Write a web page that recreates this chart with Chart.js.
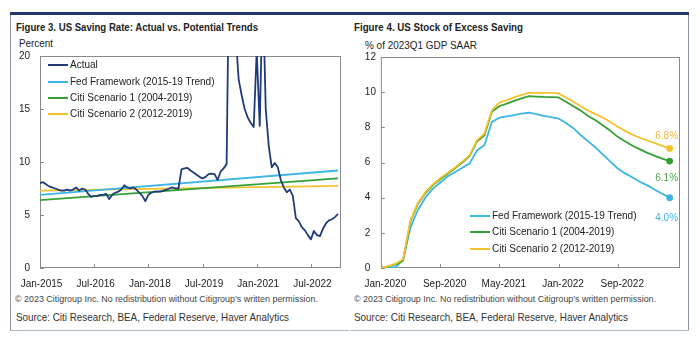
<!DOCTYPE html>
<html>
<head>
<meta charset="utf-8">
<script src="https://cdn.jsdelivr.net/npm/chart.js@4.4.1/dist/chart.umd.min.js"></script>
<style>
  html, body { margin:0; padding:0; background:#fff; }
  body { width:700px; height:341px; position:relative; overflow:hidden; font-family:"Liberation Sans", Arial, sans-serif; color:#222; }
  .abs { position:absolute; }
  .t { position:absolute; white-space:nowrap; line-height:12px; height:12px; transform-origin:0 50%; }
  .bold { font-weight:bold; }
  canvas { position:absolute; }
  .lg { position:absolute; font-size:10px; line-height:12px; white-space:nowrap; color:#222; }
  .lg i { position:absolute; height:2px; width:20px; }
</style>
</head>
<body>
<!-- frame -->
<div class="abs" style="left:10px;top:12px;width:679px;height:3px;background:#1F3864;"></div>
<div class="abs" style="left:10px;top:15px;width:1px;height:316px;background:#8a94a3;"></div>
<div class="abs" style="left:10px;top:330px;width:339px;height:1px;background:#a9b6c8;"></div>
<div class="abs" style="left:688px;top:15px;width:1px;height:316px;background:#8a94a3;"></div>
<div class="abs" style="left:350px;top:330px;width:339px;height:1px;background:#a9b6c8;"></div>

<!-- texts -->
<div class="t bold" data-w="242" style="left:16px;top:21px;font-size:11px;">Figure 3. US Saving Rate: Actual vs. Potential Trends</div>
<div class="t" data-w="34" style="left:19px;top:37px;font-size:11px;">Percent</div>
<div class="t" data-w="303" style="left:15px;top:293px;font-size:9.5px;color:#444;">© 2023 Citigroup Inc. No redistribution without Citigroup’s written permission.</div>
<div class="t" data-w="273" style="left:16px;top:311px;font-size:10.5px;color:#333;">Source: Citi Research, BEA, Federal Reserve, Haver Analytics</div>

<div class="t bold" data-w="169" style="left:354px;top:21px;font-size:11px;">Figure 4. US Stock of Excess Saving</div>
<div class="t" data-w="112" style="left:365px;top:39px;font-size:11px;">% of 2023Q1 GDP SAAR</div>
<div class="t" data-w="302" style="left:354px;top:293px;font-size:9.5px;color:#444;">© 2023 Citigroup Inc. No redistribution without Citigroup’s written permission.</div>
<div class="t" data-w="274" style="left:354px;top:311px;font-size:10.5px;color:#333;">Source: Citi Research, BEA, Federal Reserve, Haver Analytics</div>

<canvas id="c1" width="350" height="260" style="left:0px;top:40px;"></canvas>
<canvas id="c2" width="350" height="260" style="left:350px;top:40px;"></canvas>

<div id="leg1"></div>
<div id="leg2"></div>

<script>
// ---------------- DATA ----------------
// Figure 3: monthly, Jan-2015 .. Apr-2023 (index 0 = Jan-2015)
const actualSaving = [
  8.0, 8.1, 7.9, 7.7, 7.6, 7.5, 7.4, 7.3, 7.3, 7.4, 7.3, 7.4,   // 2015
  7.6, 7.3, 7.5, 7.4, 7.0, 6.7, 6.8, 6.8, 6.9, 6.9, 7.0, 6.5,   // 2016
  6.9, 7.1, 7.2, 7.4, 7.8, 7.6, 7.5, 7.6, 7.4, 7.1, 6.8, 6.3,   // 2017
  6.9, 7.1, 7.2, 7.2, 7.2, 7.3, 7.4, 7.5, 7.6, 7.5, 7.5, 9.3,   // 2018
  9.4, 9.45, 9.2, 9.0, 8.8, 8.6, 8.45, 8.6, 8.85, 8.9, 8.85, 8.3, // 2019
  9.1, 9.4, 9.8, 33.0, 25.0, 22.0, 17.8, 16.3, 15.0, 14.2, 13.7, 13.3, // 2020
  20.5, 13.4, 26.5, 15.0, 11.5, 9.5, 9.9, 9.5, 8.3, 7.6, 7.15, 7.4,     // 2021
  6.8, 4.7, 4.4, 3.85, 3.55, 3.1, 2.7, 3.5, 3.1, 3.0, 3.7, 4.2,         // 2022
  4.5, 4.6, 4.8, 5.1                                                     // 2023
];
// straight trend lines: values at Jan-2015 and Apr-2023
const trendMonths   = [0, 99];
const fedTrend      = [6.9, 9.2];
const citi1Trend    = [6.4, 8.45];
const citi2Trend    = [7.3, 7.75];
const fig3TickMonths = [0, 18, 36, 54, 72, 90];
const fig3TickLabels = ['Jan-2015', 'Jul-2016', 'Jan-2018', 'Jul-2019', 'Jan-2021', 'Jul-2022'];
const fig3Names = ['Actual', 'Fed Framework (2015-19 Trend)', 'Citi Scenario 1 (2004-2019)', 'Citi Scenario 2 (2012-2019)'];

// Figure 4: monthly, Jan-2020 .. Apr-2023 (index 0 = Jan-2020)
const excessFed = [
  0.0, 0.0, 0.05, 0.45, 2.3, 3.3, 4.0, 4.5, 4.85, 5.2, 5.45, 5.7,
  5.95, 6.7, 6.99, 8.31, 8.55, 8.62, 8.7, 8.78, 8.83, 8.75, 8.65, 8.58,
  8.5, 8.25, 7.95, 7.55, 7.2, 6.85, 6.45, 6.05, 5.66, 5.38, 5.15, 4.9,
  4.7, 4.45, 4.22, 4.0
];
const excessCiti1 = [
  0.0, 0.08, 0.2, 0.42, 2.65, 3.65, 4.25, 4.7, 5.05, 5.35, 5.67, 6.0,
  6.38, 7.2, 7.55, 8.9, 9.2, 9.35, 9.5, 9.65, 9.77, 9.75, 9.73, 9.72,
  9.7, 9.45, 9.2, 8.95, 8.65, 8.4, 8.1, 7.8, 7.46, 7.2, 6.95, 6.75,
  6.55, 6.38, 6.22, 6.08
];
const excessCiti2 = [
  0.0, 0.1, 0.25, 0.5, 2.7, 3.7, 4.3, 4.75, 5.1, 5.4, 5.72, 6.05,
  6.42, 7.27, 7.65, 8.98, 9.4, 9.55, 9.7, 9.85, 9.96, 9.96, 9.96, 9.96,
  9.93, 9.7, 9.45, 9.2, 8.95, 8.75, 8.55, 8.3, 8.03, 7.8, 7.58, 7.4,
  7.25, 7.1, 6.95, 6.8
];
const fig4TickMonths = [0, 8, 16, 24, 32];
const fig4TickLabels = ['Jan-2020', 'Sep-2020', 'May-2021', 'Jan-2022', 'Sep-2022'];
const fig4Names = ['Fed Framework (2015-19 Trend)', 'Citi Scenario 1 (2004-2019)', 'Citi Scenario 2 (2012-2019)'];
const fig4EndLabels = ['4.0%', '6.1%', '6.8%'];

// ---------------- STYLE ----------------
const NAVY = '#1F3C7A', BLUE = '#3DB5E6', GREEN = '#35A035', YELLOW = '#F5C22E';
const FONT = '"Liberation Sans", Arial, sans-serif';

// fit HTML texts to measured widths
document.querySelectorAll('.t[data-w]').forEach(el => {
  const w = el.getBoundingClientRect().width;
  const target = +el.dataset.w;
  el.style.transform = 'scaleX(' + (target / w) + ')';
});

function legend(id, names, colors, left, tops) {
  const box = document.getElementById(id);
  names.forEach((n, i) => {
    const d = document.createElement('div');
    d.className = 'lg';
    d.style.left = left + 'px';
    d.style.top = (tops[i] - 6) + 'px';
    d.innerHTML = '<i style="left:0;top:5px;background:' + colors[i] + '"></i><span style="margin-left:22px">' + n + '</span>';
    box.appendChild(d);
  });
}
legend('leg1', fig3Names, [NAVY, BLUE, GREEN, YELLOW], 48, [65, 81.5, 98, 114.3]);
legend('leg2', fig4Names, [BLUE, GREEN, YELLOW], 470, [215.5, 232, 248.5]);

const framePlugin = {
  id: 'frame',
  beforeDatasetsDraw(chart, args, o) {
    const { ctx, chartArea: a, scales: { x, y } } = chart;
    ctx.save();
    ctx.strokeStyle = o.color;
    ctx.lineWidth = 1;
    ctx.strokeRect(a.left + 0.5, a.top + 0.5, a.right - a.left - 1, a.bottom - a.top - 1);
    ctx.beginPath();
    x.ticks.forEach(t => {
      const px = Math.round(x.getPixelForValue(t.value)) + 0.5;
      ctx.moveTo(px, a.bottom); ctx.lineTo(px, a.bottom - o.len);
    });
    y.ticks.forEach(t => {
      const py = Math.round(y.getPixelForValue(t.value)) + 0.5;
      ctx.moveTo(a.left, py); ctx.lineTo(a.left + o.len, py);
    });
    ctx.stroke();
    ctx.restore();
  }
};

const endLabelPlugin = {
  id: 'endLabels',
  afterDatasetsDraw(chart, args, o) {
    const ctx = chart.ctx;
    ctx.save();
    ctx.font = '10px ' + FONT;
    ctx.textAlign = 'center';
    ctx.textBaseline = 'middle';
    chart.data.datasets.forEach((ds, i) => {
      const meta = chart.getDatasetMeta(i);
      const pt = meta.data[meta.data.length - 1];
      ctx.fillStyle = o.colors[i];
      ctx.fillText(o.labels[i], pt.x + o.dx, pt.y + o.dy[i]);
    });
    ctx.restore();
  }
};

function toXY(vals, xs) { return vals.map((v, i) => ({ x: xs ? xs[i] : i, y: v })); }

function xScale(min, max, tickVals, tickLabels, labelOffset) {
  return {
    type: 'linear', min, max,
    grid: { display: false, drawTicks: false },
    border: { display: false },
    afterBuildTicks: s => { s.ticks = tickVals.map(v => ({ value: v })); },
    afterFit: s => { s.height = 32; },
    ticks: {
      autoSkip: false, maxRotation: 0, padding: 10, labelOffset,
      color: '#222', font: { family: FONT, size: 10 },
      callback: v => tickLabels[tickVals.indexOf(v)]
    }
  };
}

// ---------------- FIGURE 3 ----------------
new Chart(document.getElementById('c1'), {
  type: 'line',
  data: {
    datasets: [
      { data: toXY(actualSaving), borderColor: NAVY, borderWidth: 1.8, order: 0 },
      { data: toXY(fedTrend, trendMonths), borderColor: BLUE, borderWidth: 1.8, order: 1 },
      { data: toXY(citi1Trend, trendMonths), borderColor: GREEN, borderWidth: 1.8, order: 2 },
      { data: toXY(citi2Trend, trendMonths), borderColor: YELLOW, borderWidth: 1.8, order: 3 }
    ]
  },
  options: {
    responsive: false, animation: false, devicePixelRatio: 1,
    layout: { padding: { top: 14, right: 9, left: 0, bottom: 0 } },
    elements: { point: { radius: 0 }, line: { tension: 0, borderJoinStyle: 'round' } },
    plugins: { legend: { display: false }, tooltip: { enabled: false }, frame: { color: '#8a8a8a', len: 4 } },
    scales: {
      x: xScale(0, 100, fig3TickMonths, fig3TickLabels, 1.5),
      y: {
        min: 0, max: 20,
        grid: { display: false, drawTicks: false },
        border: { display: false },
        afterFit: s => { s.width = 40; },
        ticks: { stepSize: 5, padding: 10, color: '#222', font: { family: FONT, size: 10 } }
      }
    }
  },
  plugins: [framePlugin]
});

// ---------------- FIGURE 4 ----------------
new Chart(document.getElementById('c2'), {
  type: 'line',
  data: {
    datasets: [
      { data: toXY(excessFed), borderColor: BLUE, backgroundColor: BLUE, borderWidth: 1.8, order: 2 },
      { data: toXY(excessCiti1), borderColor: GREEN, backgroundColor: GREEN, borderWidth: 1.8, order: 1 },
      { data: toXY(excessCiti2), borderColor: YELLOW, backgroundColor: YELLOW, borderWidth: 1.8, order: 0 }
    ]
  },
  options: {
    responsive: false, animation: false, devicePixelRatio: 1,
    layout: { padding: { top: 17, right: 20, left: 12, bottom: 0 } },
    elements: {
      point: { radius: ctx => (ctx.dataIndex === ctx.dataset.data.length - 1 ? 2.5 : 0), borderWidth: 0 },
      line: { tension: 0, borderJoinStyle: 'round' }
    },
    plugins: {
      legend: { display: false }, tooltip: { enabled: false },
      frame: { color: '#8a8a8a', len: 4 },
      endLabels: { labels: fig4EndLabels, colors: ['#45B5E6', '#4A9E4A', '#F0B840'], dx: -3, dy: [21, 17, -12.5] }
    },
    scales: {
      x: xScale(0, 40.4, fig4TickMonths, fig4TickLabels, 4.5),
      y: {
        min: 0, max: 12,
        grid: { display: false, drawTicks: false },
        border: { display: false },
        afterFit: s => { s.width = 16; },
        ticks: { stepSize: 2, padding: 0, crossAlign: 'far', color: '#222', font: { family: FONT, size: 10 } }
      }
    }
  },
  plugins: [framePlugin, endLabelPlugin]
});
</script>
</body>
</html>
